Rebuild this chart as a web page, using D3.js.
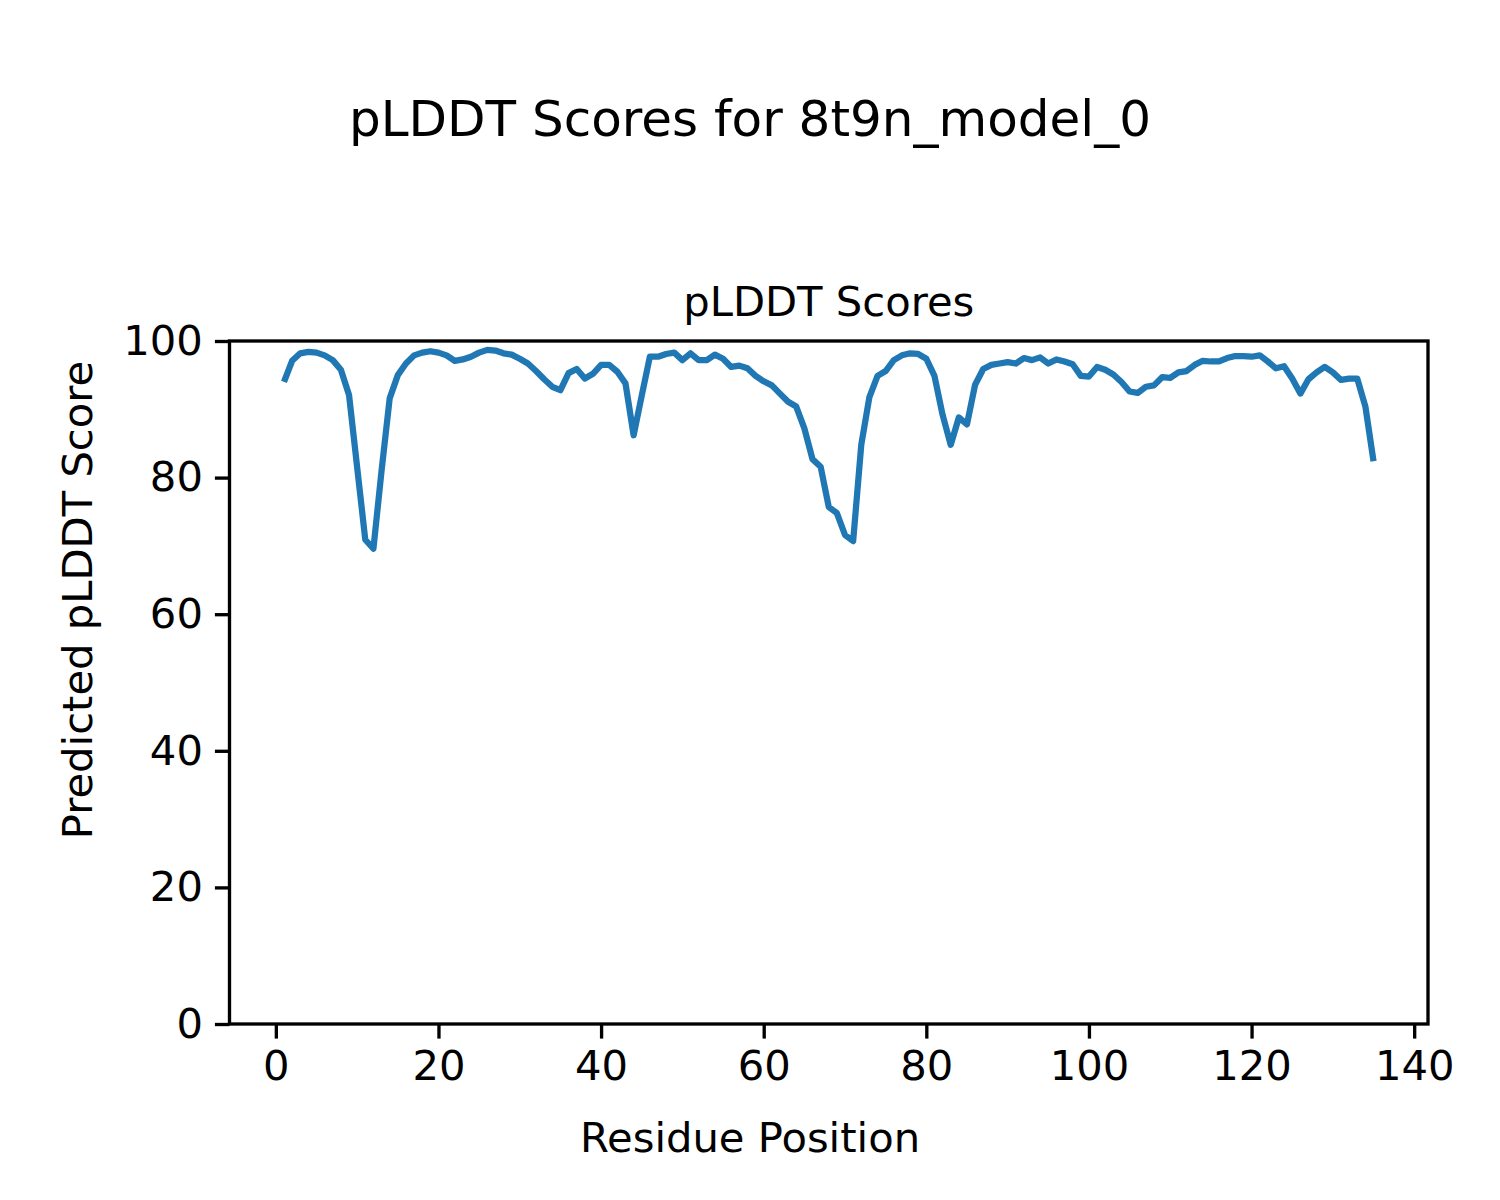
<!DOCTYPE html>
<html>
<head>
<meta charset="utf-8">
<script src="https://cdn.jsdelivr.net/npm/d3@7"></script>
<style>
  body { margin: 0; background: #fff; }
  text { font-family: "DejaVu Sans", sans-serif; fill: #000; }
</style>
</head>
<body>
<svg id="chart"></svg>
<script>
// pLDDT per residue, residues 1..135
var residues = d3.range(1, 136);
var plddt = [
  94.0, 97.1, 98.2, 98.4, 98.3, 97.9, 97.2, 95.8, 92.1, 81.5,
  70.9, 69.6, 81.0, 91.6, 95.0, 96.7, 97.9, 98.3, 98.5, 98.3,
  97.9, 97.1, 97.3, 97.7, 98.3, 98.7, 98.6, 98.2, 98.0, 97.4,
  96.7, 95.6, 94.4, 93.3, 92.8, 95.3, 95.9, 94.5, 95.2, 96.5,
  96.5, 95.5, 93.8, 86.2, 92.0, 97.7, 97.7, 98.1, 98.3, 97.2,
  98.2, 97.2, 97.2, 98.0, 97.4, 96.2, 96.4, 96.0, 94.9, 94.1,
  93.5, 92.3, 91.1, 90.4, 87.2, 82.7, 81.6, 75.7, 74.8, 71.6,
  70.7, 84.8, 91.8, 94.9, 95.6, 97.2, 97.9, 98.2, 98.1, 97.4,
  94.9, 89.2, 84.8, 88.8, 87.8, 93.6, 95.9, 96.5, 96.7, 96.9,
  96.7, 97.5, 97.2, 97.6, 96.7, 97.3, 97.0, 96.6, 94.9, 94.8,
  96.2, 95.8, 95.1, 94.0, 92.6, 92.4, 93.3, 93.5, 94.7, 94.6,
  95.4, 95.6, 96.5, 97.1, 97.0, 97.0, 97.5, 97.8, 97.8, 97.7,
  97.9, 97.0, 96.0, 96.3, 94.5, 92.3, 94.4, 95.4, 96.2, 95.4,
  94.3, 94.5, 94.5, 90.4, 82.4
];
var xTicks = [0, 20, 40, 60, 80, 100, 120, 140];
var yTicks = [0, 20, 40, 60, 80, 100];

var suptitle = "pLDDT Scores for 8t9n_model_0";
var axTitle = "pLDDT Scores";
var xLabel = "Residue Position";
var yLabel = "Predicted pLDDT Score";

var width = 1500, height = 1200;
var margin = {top: 341, right: 72, bottom: 176, left: 229.5};
var pw = width - margin.left - margin.right,
    ph = height - margin.top - margin.bottom;

var svg = d3.select("#chart")
    .attr("width", width)
    .attr("height", height);

// 5% padding on x like matplotlib autoscale
var xmin = d3.min(residues), xmax = d3.max(residues);
var pad = (xmax - xmin) * 0.05;
var x = d3.scaleLinear()
    .domain([xmin - pad, xmax + pad])
    .range([0, pw]);
var y = d3.scaleLinear()
    .domain([0, 100])
    .range([ph, 0]);

var g = svg.append("g")
    .attr("transform", "translate(" + margin.left + "," + margin.top + ")");

// the line
var line = d3.line()
    .x(function(d, i) { return x(residues[i]); })
    .y(function(d) { return y(d); });

g.append("path")
    .datum(plddt)
    .attr("fill", "none")
    .attr("stroke", "#1f77b4")
    .attr("stroke-width", 6.25)
    .attr("stroke-linejoin", "round")
    .attr("stroke-linecap", "butt")
    .attr("d", line);

// axes
var xAxis = g.append("g")
    .attr("transform", "translate(0," + ph + ")")
    .call(d3.axisBottom(x).tickValues(xTicks).tickSize(14.6).tickPadding(12));
var yAxis = g.append("g")
    .call(d3.axisLeft(y).tickValues(yTicks).tickSize(14.6).tickPadding(12));

[xAxis, yAxis].forEach(function(a) {
    a.select(".domain").remove();
    a.selectAll("line").attr("stroke", "#000").attr("stroke-width", 3.33);
    a.selectAll("text")
        .style("font-family", "'DejaVu Sans', sans-serif")
        .style("font-size", "41.7px");
});

// frame
g.append("rect")
    .attr("width", pw)
    .attr("height", ph)
    .attr("fill", "none")
    .attr("stroke", "#000")
    .attr("stroke-width", 3.33);

// titles
svg.append("text")
    .attr("x", width / 2)
    .attr("y", 136)
    .attr("text-anchor", "middle")
    .style("font-size", "50px")
    .text(suptitle);

g.append("text")
    .attr("x", pw / 2)
    .attr("y", -25)
    .attr("text-anchor", "middle")
    .style("font-size", "41.7px")
    .text(axTitle);

svg.append("text")
    .attr("x", width / 2)
    .attr("y", 1152)
    .attr("text-anchor", "middle")
    .style("font-size", "41.7px")
    .text(xLabel);

svg.append("text")
    .attr("transform", "translate(92," + (height / 2) + ") rotate(-90)")
    .attr("text-anchor", "middle")
    .style("font-size", "41.7px")
    .text(yLabel);
</script>
</body>
</html>
